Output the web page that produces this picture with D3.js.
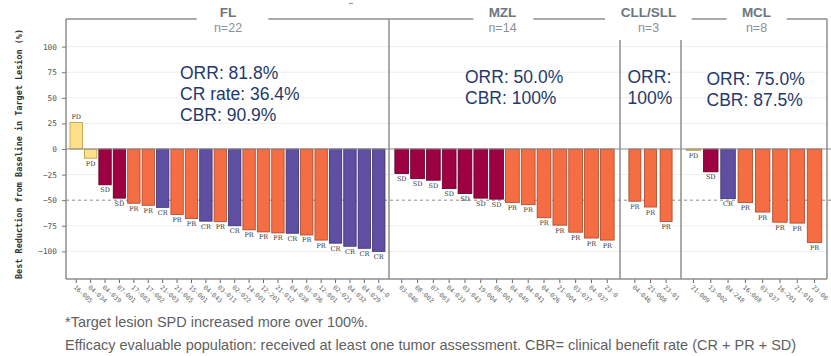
<!DOCTYPE html>
<html>
<head>
<meta charset="utf-8">
<script src="https://cdn.jsdelivr.net/npm/d3@7/dist/d3.min.js"></script>
<style>
  html, body { margin: 0; padding: 0; background: #ffffff; }
  svg { display: block; }
</style>
</head>
<body>
<svg id="chart" width="831" height="356"></svg>
<script>
// ---------------- DATA ----------------
const flIds   = ["16-005","04-034","04-039","07-001","17-003","17-002","21-003","21-005","15-001","04-043","03-011",
                 "02-022","14-001","12-201","21-012","04-038","03-036","12-001","02-021","04-032","04-029","04-0"];
const flValues = [26, -9, -35, -48, -53, -55, -57, -64, -68, -70.5, -71, -75, -79, -81, -82, -82.3, -84, -89, -92, -95, -97, -100];
const flResp   = ["PD","PD","SD","SD","PR","PR","CR","PR","PR","CR","PR","CR","PR","PR","PR","CR","PR","PR","CR","CR","CR","CR"];
const flStats  = ["ORR: 81.8%", "CR rate: 36.4%", "CBR: 90.9%"];

const mzlIds    = ["03-040","08-002","07-003","04-033","03-043","19-004","08-001","04-049","04-041","04-026","21-004","03-037","04-037","23-0"];
const mzlValues = [-24, -29, -30.5, -38.7, -43.6, -48, -49, -52.4, -54.4, -67.2, -74.4, -81.3, -87, -89];
const mzlResp   = ["SD","SD","SD","SD","SD","SD","SD","PR","PR","PR","PR","PR","PR","PR"];
const mzlStats  = ["ORR: 50.0%", "CBR: 100%"];

const cllIds    = ["04-046","21-008","23-01"];
const cllValues = [-51, -56.7, -70.8];
const cllResp   = ["PR","PR","PR"];
const cllStats  = ["ORR:", "100%"];

const mclIds    = ["21-009","13-002","04-248","16-008","03-037","16-201","21-010","23-00"];
const mclValues = [-1.5, -22.3, -48.5, -52.4, -61.6, -71.5, -72.4, -91.4];
const mclResp   = ["PD","SD","CR","PR","PR","PR","PR","PR"];
const mclStats  = ["ORR: 75.0%", "CBR: 87.5%"];

const panelNames  = ["FL", "MZL", "CLL/SLL", "MCL"];
const panelCounts = ["n=22", "n=14", "n=3", "n=8"];
const yTicks = [100, 75, 50, 25, 0, -25, -50, -75, -100];
const yTitle = "Best Reduction from Baseline in Target Lesion (%)";
const footnotes = ["*Target lesion SPD increased more over 100%.",
  "Efficacy evaluable population: received at least one tumor assessment. CBR= clinical benefit rate (CR + PR + SD)"];

// ---------------- STYLE / LAYOUT ----------------
const respColor  = { PD: "#fee08b", SD: "#9e0142", PR: "#f46d43", CR: "#5e4fa2" };
const respStroke = { PD: "#b89a45", SD: "#5e0027", PR: "#a8472a", CR: "#3a3070" };
const frame = "#8e8e8e";
const plotTop = 19, plotBottom = 279, plotLeft = 66, plotRight = 827;

const panels = [
  { ids: flIds,  vals: flValues,  resp: flResp,  stats: flStats,  x0: 66,  x1: 389, po: 0.28, pi: 0.14, titleX: 228,   statX: 180, statY: 79,  sepTop: 19 },
  { ids: mzlIds, vals: mzlValues, resp: mzlResp, stats: mzlStats, x0: 389, x1: 620, po: 0.37, pi: 0.13, titleX: 502.5, statX: 465, statY: 83,  sepTop: 40 },
  { ids: cllIds, vals: cllValues, resp: cllResp, stats: cllStats, x0: 620, x1: 681, po: 0.57, pi: 0.23, titleX: 648.5, statX: 627.5, statY: 83, sepTop: 40 },
  { ids: mclIds, vals: mclValues, resp: mclResp, stats: mclStats, x0: 681, x1: 827, po: 0.30, pi: 0.16, titleX: 756.5, statX: 706.5, statY: 85, sepTop: 19 }
];
// top strip line segments (gaps around strip titles)
const topSegments = [[66, 196.7], [268.3, 473.3], [533.3, 605], [691.7, 726.7], [786.7, 827]];

const svg = d3.select("#chart");
const y = d3.scaleLinear().domain([-127, 127]).range([plotBottom, plotTop]);

// gridlines
svg.append("g").selectAll("line")
  .data(yTicks.filter(d => d !== 0 && d !== -50))
  .join("line")
  .attr("x1", plotLeft).attr("x2", plotRight)
  .attr("y1", d => y(d)).attr("y2", d => y(d))
  .attr("stroke", "#eeeeee").attr("stroke-width", 1);

// reference line at -50
svg.append("line").attr("x1", plotLeft).attr("x2", 831)
  .attr("y1", y(-50)).attr("y2", y(-50))
  .attr("stroke", "#8a8a8a").attr("stroke-width", 1).attr("stroke-dasharray", "3,3");

// bars per panel
panels.forEach((p, i) => {
  const x = d3.scaleBand().domain(p.ids).range([p.x0, p.x1]).paddingInner(p.pi).paddingOuter(p.po);
  const data = p.ids.map((id, k) => ({ id, v: p.vals[k], r: p.resp[k] }));
  const g = svg.append("g");

  g.selectAll("rect").data(data).join("rect")
    .attr("x", d => x(d.id))
    .attr("width", x.bandwidth())
    .attr("y", d => y(Math.max(0, d.v)))
    .attr("height", d => Math.abs(y(d.v) - y(0)))
    .attr("fill", d => respColor[d.r])
    .attr("stroke", d => respStroke[d.r])
    .attr("stroke-width", 0.8);

  g.selectAll("text.resp").data(data).join("text")
    .attr("class", "resp")
    .attr("x", d => x(d.id) + x.bandwidth() / 2)
    .attr("y", d => d.v >= 0 ? y(d.v) - 3.5 : y(d.v) + 7.5)
    .attr("text-anchor", "middle")
    .attr("font-family", "DejaVu Serif, serif")
    .attr("font-size", 6.5)
    .attr("fill", "#333")
    .text(d => d.r);

  // x axis
  const ax = svg.append("g").attr("transform", `translate(0,${plotBottom})`)
    .call(d3.axisBottom(x).tickSize(4).tickSizeOuter(0));
  ax.select(".domain").remove();
  ax.selectAll(".tick line").attr("stroke", "#666");
  ax.selectAll(".tick text")
    .attr("x", 0).attr("y", 0).attr("dy", 0)
    .attr("transform", "translate(-3,9) rotate(42)")
    .attr("text-anchor", "start")
    .attr("font-family", "DejaVu Sans Mono, monospace")
    .attr("font-size", 6.3)
    .attr("fill", "#666");

  // stats annotation
  const st = svg.append("text")
    .attr("font-family", "Liberation Sans, Arial, sans-serif")
    .attr("font-size", 17.5)
    .attr("fill", "#1f3a6d");
  p.stats.forEach((s, k) => {
    st.append("tspan").attr("x", p.statX).attr("y", p.statY + k * 21).text(s);
  });

  // strip titles
  svg.append("text").attr("x", p.titleX).attr("y", 17)
    .attr("text-anchor", "middle")
    .attr("font-family", "Liberation Sans, Arial, sans-serif")
    .attr("font-weight", "bold").attr("font-size", 13.5)
    .attr("fill", "#6e7680").text(panelNames[i]);
  svg.append("text").attr("x", p.titleX).attr("y", 31.5)
    .attr("text-anchor", "middle")
    .attr("font-family", "Liberation Sans, Arial, sans-serif")
    .attr("font-size", 12.5)
    .attr("fill", "#8b9098").text(panelCounts[i]);
});

// zero line
svg.append("line").attr("x1", plotLeft).attr("x2", 831)
  .attr("y1", y(0)).attr("y2", y(0))
  .attr("stroke", "#8a8a8a").attr("stroke-width", 1.2);

// panel frames
const fr = svg.append("g").attr("stroke", frame).attr("stroke-width", 1.5).attr("fill", "none");
fr.append("line").attr("x1", plotLeft).attr("x2", plotLeft).attr("y1", plotTop).attr("y2", plotBottom);
panels.forEach(p => {
  fr.append("line").attr("x1", p.x1).attr("x2", p.x1).attr("y1", p.sepTop).attr("y2", plotBottom);
});
fr.append("line").attr("x1", plotLeft).attr("x2", plotRight).attr("y1", plotBottom).attr("y2", plotBottom);
topSegments.forEach(s => {
  fr.append("line").attr("x1", s[0]).attr("x2", s[1]).attr("y1", plotTop).attr("y2", plotTop);
});
svg.append("line").attr("x1", 349).attr("x2", 353).attr("y1", 3.5).attr("y2", 3.5)
  .attr("stroke", "#9a9a9a").attr("stroke-width", 1.3);

// y axis
const ay = svg.append("g").attr("transform", `translate(${plotLeft},0)`)
  .call(d3.axisLeft(y).tickValues(yTicks).tickSize(4).tickPadding(5).tickFormat(d3.format("d")));
ay.select(".domain").remove();
ay.selectAll(".tick line").attr("stroke", "#777");
ay.selectAll(".tick text")
  .attr("font-family", "DejaVu Sans Mono, monospace")
  .attr("font-size", 7.8)
  .attr("fill", "#555");

// y title
svg.append("text")
  .attr("transform", "translate(22,154) rotate(-90)")
  .attr("text-anchor", "middle")
  .attr("font-family", "DejaVu Sans Mono, monospace")
  .attr("font-weight", "bold")
  .attr("font-size", 8.4)
  .attr("fill", "#333")
  .attr("textLength", 250).attr("lengthAdjust", "spacingAndGlyphs")
  .text(yTitle);

// footnotes
svg.append("text").attr("x", 65).attr("y", 327)
  .attr("font-family", "Liberation Sans, Arial, sans-serif")
  .attr("font-size", 14.5).attr("fill", "#5f5f5f")
  .text(footnotes[0]);
svg.append("text").attr("x", 65).attr("y", 350)
  .attr("font-family", "Liberation Sans, Arial, sans-serif")
  .attr("font-size", 14.5).attr("fill", "#5f5f5f")
  .text(footnotes[1]);
</script>
</body>
</html>
